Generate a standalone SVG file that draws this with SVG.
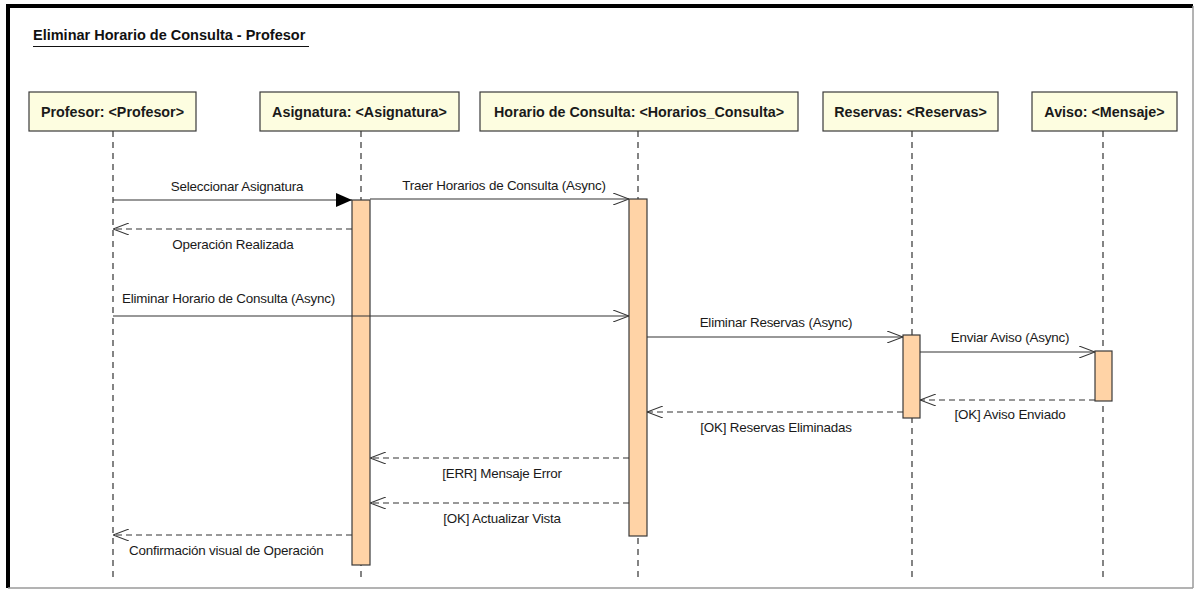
<svg xmlns="http://www.w3.org/2000/svg" width="1195" height="590" viewBox="0 0 1195 590">
  <style>
    .frame-top { stroke: #000; stroke-width: 4; }
    .frame-edge { stroke: #9a9a9a; stroke-width: 1.5; }
    .title { font-family: "Liberation Sans", Arial, sans-serif; font-size: 14.5px; font-weight: bold; fill: #111; }
    .head rect { fill: #fdfde0; stroke: #3a3a3a; stroke-width: 1.2; }
    .head text { font-family: "Liberation Sans", Arial, sans-serif; font-size: 14.3px; font-weight: bold; fill: #1a1a1a; text-anchor: middle; }
    .life { stroke: #333; stroke-width: 1.2; stroke-dasharray: 6 5; fill: none; }
    .act { fill: #ffd3a6; stroke: #3a3a3a; stroke-width: 1.2; }
    .msg { stroke: #333; stroke-width: 1.1; fill: none; }
    .ret { stroke: #333; stroke-width: 1.1; stroke-dasharray: 6 4; fill: none; }
    .lbl { font-family: "Liberation Sans", Arial, sans-serif; font-size: 13.4px; fill: #1a1a1a; letter-spacing: -0.2px; }
    .mid { text-anchor: middle; }
  </style>
  <defs>
    <marker id="open" viewBox="0 0 16 12" refX="16" refY="6" markerWidth="16" markerHeight="12" markerUnits="userSpaceOnUse" orient="auto">
      <path d="M0,0 L16,6 L0,12" fill="none" stroke="#333" stroke-width="1.1"/>
    </marker>
    <marker id="solid" viewBox="0 0 16 14" refX="16" refY="7" markerWidth="16" markerHeight="14" markerUnits="userSpaceOnUse" orient="auto">
      <path d="M0,0 L16,7 L0,14 Z" fill="#000"/>
    </marker>
  </defs>

  <rect x="0" y="0" width="1195" height="590" fill="#fff"/>

  <!-- diagram frame -->
  <line class="frame-top" x1="6" y1="6" x2="1193" y2="6"/>
  <line class="frame-top" x1="8" y1="4" x2="8" y2="588"/>
  <line class="frame-edge" x1="1193" y1="6" x2="1193" y2="588"/>
  <line class="frame-edge" x1="8" y1="588" x2="1193" y2="588"/>

  <!-- title -->
  <text class="title" x="33" y="40">Eliminar Horario de Consulta - Profesor</text>
  <line x1="33" y1="46.5" x2="309" y2="46.5" stroke="#111" stroke-width="1.2"/>

  <!-- lifelines -->
  <g id="lifelines">
    <line class="life" x1="113" y1="131" x2="113" y2="578"/>
    <line class="life" x1="361" y1="131" x2="361" y2="578"/>
    <line class="life" x1="638" y1="131" x2="638" y2="578"/>
    <line class="life" x1="912" y1="131" x2="912" y2="578"/>
    <line class="life" x1="1103" y1="131" x2="1103" y2="578"/>
  </g>

  <!-- participants -->
  <g id="profesor" class="head">
    <rect x="29" y="92" width="167" height="39"/>
    <text x="112.5" y="116.5">Profesor: &lt;Profesor&gt;</text>
  </g>
  <g id="asignatura" class="head">
    <rect x="260" y="92" width="199" height="39"/>
    <text x="359.5" y="116.5">Asignatura: &lt;Asignatura&gt;</text>
  </g>
  <g id="horario" class="head">
    <rect x="480" y="92" width="318" height="39"/>
    <text x="639" y="116.5">Horario de Consulta: &lt;Horarios_Consulta&gt;</text>
  </g>
  <g id="reservas" class="head">
    <rect x="823" y="92" width="175" height="39"/>
    <text x="910.5" y="116.5">Reservas: &lt;Reservas&gt;</text>
  </g>
  <g id="aviso" class="head">
    <rect x="1032" y="92" width="145" height="39"/>
    <text x="1104.5" y="116.5">Aviso: &lt;Mensaje&gt;</text>
  </g>

  <!-- activation bars -->
  <g id="activations">
    <rect class="act" x="352" y="200" width="18" height="365"/>
    <rect class="act" x="629" y="199" width="18" height="337"/>
    <rect class="act" x="903" y="335" width="17" height="83"/>
    <rect class="act" x="1095" y="351" width="17" height="50"/>
  </g>

  <!-- messages -->
  <g id="connectors">
    <line class="msg" x1="113" y1="200" x2="352" y2="200" marker-end="url(#solid)"/>
    <line class="msg" x1="370" y1="199" x2="629" y2="199" marker-end="url(#open)"/>
    <line class="ret" x1="352" y1="229" x2="113" y2="229" marker-end="url(#open)"/>
    <line class="msg" x1="113" y1="316" x2="629" y2="316" marker-end="url(#open)"/>
    <line class="msg" x1="647" y1="337" x2="903" y2="337" marker-end="url(#open)"/>
    <line class="msg" x1="920" y1="352" x2="1095" y2="352" marker-end="url(#open)"/>
    <line class="ret" x1="1095" y1="400" x2="920" y2="400" marker-end="url(#open)"/>
    <line class="ret" x1="903" y1="412" x2="647" y2="412" marker-end="url(#open)"/>
    <line class="ret" x1="629" y1="458" x2="370" y2="458" marker-end="url(#open)"/>
    <line class="ret" x1="629" y1="503" x2="370" y2="503" marker-end="url(#open)"/>
    <line class="ret" x1="352" y1="535" x2="113" y2="535" marker-end="url(#open)"/>
  </g>

  <!-- message labels -->
  <g id="labels">
    <text class="lbl mid" x="237" y="191">Seleccionar Asignatura</text>
    <text class="lbl mid" x="504" y="190">Traer Horarios de Consulta (Async)</text>
    <text class="lbl mid" x="233" y="249">Operación Realizada</text>
    <text class="lbl" x="122" y="303">Eliminar Horario de Consulta (Async)</text>
    <text class="lbl mid" x="776" y="327">Eliminar Reservas (Async)</text>
    <text class="lbl mid" x="1010" y="342">Enviar Aviso (Async)</text>
    <text class="lbl mid" x="1010" y="419">[OK] Aviso Enviado</text>
    <text class="lbl mid" x="776" y="432">[OK] Reservas Eliminadas</text>
    <text class="lbl mid" x="502" y="478">[ERR] Mensaje Error</text>
    <text class="lbl mid" x="502" y="523">[OK] Actualizar Vista</text>
    <text class="lbl" x="129" y="555">Confirmación visual de Operación</text>
  </g>
</svg>
